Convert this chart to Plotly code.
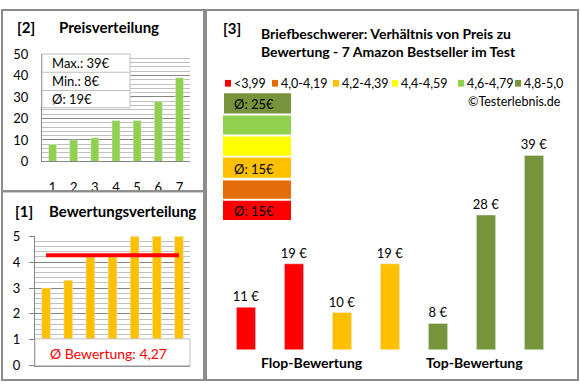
import plotly.graph_objects as go

# ---------------- data ----------------
price_cats = [1, 2, 3, 4, 5, 6, 7]
prices = [8, 10, 11, 19, 19, 28, 39]
price_stats = ["Max.: 39€", "Min.: 8€", "Ø: 19€"]

rating_cats = [1, 2, 3, 4, 5, 6, 7]
ratings = [3.0, 3.3, 4.2, 4.2, 5.0, 5.0, 5.0]
rating_avg = 4.27
rating_label = "Ø Bewertung: 4,27"

rel_cats = [1, 2, 3, 4, 5, 6, 7]
rel_prices = [11, 19, 10, 19, 8, 28, 39]
rel_colors = ["#FF0000", "#FF0000", "#FFC000", "#FFC000", "#77933C", "#77933C", "#77933C"]
group_labels = ["Flop-Bewertung", "Top-Bewertung"]
group_pos = [2.375, 5.75]

legend_labels = ["<3,99", "4,0-4,19", "4,2-4,39", "4,4-4,59", "4,6-4,79", "4,8-5,0"]
legend_colors = ["#FF0000", "#E46C0A", "#FFC000", "#FFFF00", "#92D050", "#77933C"]
block_texts = ["Ø: 25€", "", "", "Ø: 15€", "", "Ø: 15€"]  # top to bottom: 4,8-5,0 ... <3,99

W, H = 580, 390
FONT = "Lato"
def X(px): return px / W
def Y(py): return 1 - py / H

fig = go.Figure()

# Chart [2] Preisverteilung
fig.add_trace(go.Bar(x=price_cats, y=prices, marker_color="#92D050", width=0.38,
                     xaxis="x", yaxis="y", showlegend=False))
# Chart [1] Bewertungsverteilung
fig.add_trace(go.Bar(x=rating_cats, y=ratings, marker_color="#FFC000", width=0.4,
                     xaxis="x2", yaxis="y2", showlegend=False))
fig.add_trace(go.Scatter(x=[rating_cats[0], rating_cats[-1]], y=[rating_avg, rating_avg],
                         mode="lines", line=dict(color="#FF0000", width=4),
                         xaxis="x2", yaxis="y2", showlegend=False))
# Chart [3]
fig.add_trace(go.Bar(x=rel_cats, y=rel_prices, marker_color=rel_colors, width=0.4,
                     text=[f"{v} €" for v in rel_prices], textposition="outside",
                     textfont=dict(family=FONT, size=13, color="#000000"),
                     cliponaxis=False,
                     xaxis="x3", yaxis="y3", showlegend=False))

major = "#868686"
minor = "#C0C0C0"
tickfont = dict(family=FONT, size=13, color="#000000")

layout = dict(
    width=W, height=H, margin=dict(l=0, r=0, t=0, b=0),
    paper_bgcolor="white", plot_bgcolor="rgba(0,0,0,0)",
    font=dict(family=FONT, color="#000000"),
    uniformtext=dict(minsize=13, mode="show"),
    xaxis=dict(domain=[X(42), X(190)], range=[0.5, 7.5], tickvals=price_cats,
               showgrid=False, showline=True, linecolor=major, linewidth=1,
               ticks="", tickfont=tickfont, ticklabelstandoff=14, anchor="y", fixedrange=True),
    yaxis=dict(domain=[Y(160), Y(48)], range=[0, 50], dtick=10, showgrid=True,
               gridcolor=major, gridwidth=1, zeroline=False,
               minor=dict(dtick=2, showgrid=True, gridcolor=minor, gridwidth=1),
               showline=True, linecolor=major, linewidth=1, ticks="",
               tickfont=tickfont, ticklabelstandoff=10, anchor="x"),
    xaxis2=dict(domain=[X(35), X(190)], range=[0.5, 7.5], showticklabels=False,
                showgrid=False, showline=True, linecolor=major, ticks="", anchor="y2"),
    yaxis2=dict(domain=[Y(373), Y(238)], range=[0, 5], dtick=1, showgrid=True,
                gridcolor=major, zeroline=False,
                minor=dict(dtick=0.2, showgrid=True, gridcolor=minor),
                showline=True, linecolor=major, ticks="outside", ticklen=5, tickcolor=major,
                tickfont=tickfont, ticklabelstandoff=6, anchor="x2"),
    xaxis3=dict(domain=[X(222), X(558)], range=[0.5, 7.5], visible=False, anchor="y3"),
    yaxis3=dict(domain=[Y(356), Y(100)], range=[3.2, 48.5], visible=False, anchor="x3"),
)

shapes = []
annotations = []
border = dict(color="#8C8C8C", width=2)
# panel frames
shapes.append(dict(type="rect", xref="paper", yref="paper", x0=X(2), x1=X(204), y0=Y(191), y1=Y(2), line=border))
shapes.append(dict(type="rect", xref="paper", yref="paper", x0=X(2), x1=X(204), y0=Y(388), y1=Y(191), line=border))
shapes.append(dict(type="rect", xref="paper", yref="paper", x0=X(206), x1=X(578), y0=Y(388), y1=Y(2), line=border))

# stats box in chart [2]
shapes.append(dict(type="rect", xref="paper", yref="paper", x0=X(42), x1=X(130), y0=Y(104), y1=Y(48),
                   fillcolor="white", line=dict(color="#BFBFBF", width=1), layer="above"))
for yy in (67, 86):
    shapes.append(dict(type="line", xref="paper", yref="paper", x0=X(42), x1=X(130), y0=Y(yy), y1=Y(yy),
                       line=dict(color="#BFBFBF", width=1), layer="above"))
for txt, yy in zip(price_stats, (57.5, 76.5, 95)):
    annotations.append(dict(text=txt, xref="paper", yref="paper", x=X(50), y=Y(yy), xanchor="left",
                            yanchor="middle", showarrow=False, font=dict(family=FONT, size=13)))

# rating box in chart [1]
shapes.append(dict(type="rect", xref="paper", yref="paper", x0=X(35), x1=X(190), y0=Y(373), y1=Y(345),
                   fillcolor="white", line=dict(color="#BFBFBF", width=1), layer="above"))
annotations.append(dict(text=rating_label, xref="paper", yref="paper", x=X(109), y=Y(360),
                        xanchor="center", yanchor="middle", showarrow=False,
                        font=dict(family=FONT, size=14, color="#FF0000")))

# titles
tfont = dict(family=FONT, size=15, color="#000000", weight="bold")
for txt, px, py in [("[2]", 15, 20), ("Preisverteilung", 57, 20), ("[1]", 13, 212),
                    ("Bewertungsverteilung", 47, 212), ("[3]", 221, 21)]:
    annotations.append(dict(text=txt, xref="paper", yref="paper", x=X(px), y=Y(py), xanchor="left",
                            yanchor="middle", showarrow=False, font=tfont))

annotations.append(dict(text="Briefbeschwerer: Verhältnis von Preis zu<br>Bewertung - 7 Amazon Bestseller im Test",
                        xref="paper", yref="paper", x=X(259), y=Y(36), xanchor="left", yanchor="middle",
                        align="left", showarrow=False,
                        font=dict(family=FONT, size=14, color="#000000", weight="bold")))

# legend row
leg_sq = [225, 272, 333, 392, 458, 515]
for lx, lab, col in zip(leg_sq, legend_labels, legend_colors):
    shapes.append(dict(type="rect", xref="paper", yref="paper", x0=X(lx), x1=X(lx + 6), y0=Y(82), y1=Y(75),
                       fillcolor=col, line=dict(width=0)))
    annotations.append(dict(text=lab, xref="paper", yref="paper", x=X(lx + 7), y=Y(78.5), xanchor="left",
                            yanchor="middle", showarrow=False, font=dict(family=FONT, size=12.5)))
annotations.append(dict(text="©Testerlebnis.de", xref="paper", yref="paper", x=X(563), y=Y(98),
                        xanchor="right", yanchor="middle", showarrow=False, font=dict(family=FONT, size=12.5)))

# colour blocks
blocks = [(89, 110), (112, 132), (134, 154), (156, 177), (180, 199), (201, 221)]
block_cols = legend_colors[::-1]
for (y0, y1), col, txt in zip(blocks, block_cols, block_texts):
    x0 = 224 if col == "#77933C" else 223
    shapes.append(dict(type="rect", xref="paper", yref="paper", x0=X(x0), x1=X(291), y0=Y(y1), y1=Y(y0),
                       fillcolor=col, line=dict(width=0)))
    if txt:
        annotations.append(dict(text=txt, xref="paper", yref="paper", x=X(232), y=Y((y0 + y1) / 2 + 1),
                                xanchor="left", yanchor="middle", showarrow=False,
                                font=dict(family=FONT, size=13)))

# group labels
for lab, pos in zip(group_labels, group_pos):
    annotations.append(dict(text=lab, xref="x3", yref="paper", x=pos, y=Y(370), xanchor="center",
                            yanchor="middle", showarrow=False,
                            font=dict(family=FONT, size=14, color="#000000", weight="bold")))

layout["shapes"] = shapes
layout["annotations"] = annotations
fig.update_layout(**layout)
fig.write_html("out.html", config={"displayModeBar": False, "staticPlot": True},
               post_script="document.body.style.margin='0';document.body.style.overflow='hidden';")
